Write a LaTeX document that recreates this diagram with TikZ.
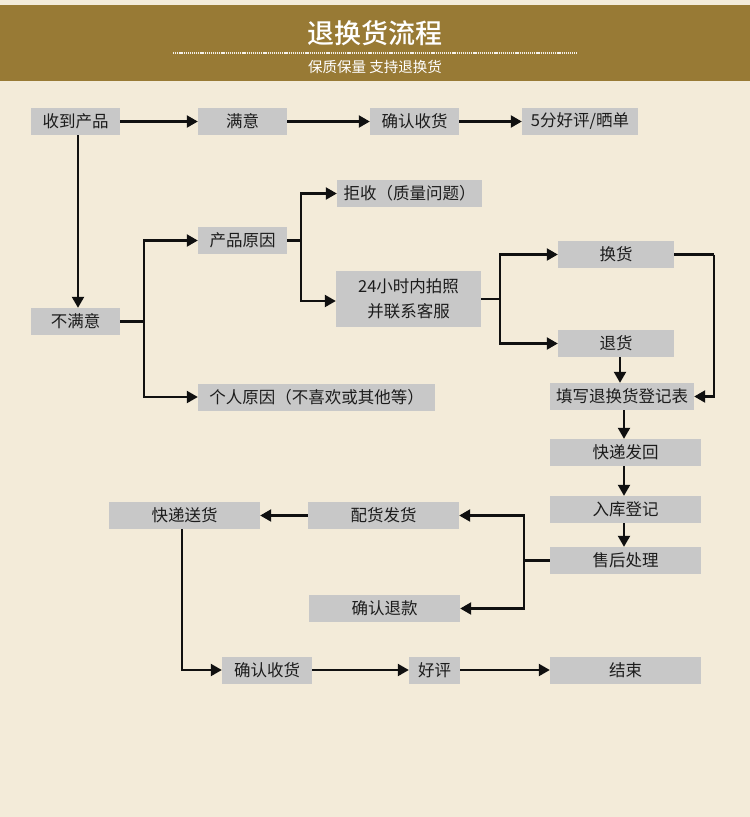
\documentclass[tikz,border=0pt]{standalone}
\usepackage{fontspec}
\setmainfont{Noto Sans CJK SC}
\newfontfamily\cjkb{Noto Sans CJK SC Medium}
\usetikzlibrary{arrows.meta}
\definecolor{bgcream}{HTML}{F3EBD9}
\definecolor{bandolive}{HTML}{987A35}
\definecolor{boxgray}{HTML}{C8C8C8}
\definecolor{linedark}{HTML}{101010}
\definecolor{txtdark}{HTML}{1C1C1C}
\tikzset{
  fbox/.style={fill=boxgray, inner sep=0pt, minimum height=27pt, text=txtdark,
    font=\fontsize{16.5}{24.5}\selectfont, align=center},
  conn/.style={draw=linedark, line width=2.2pt},
  arr/.style={conn, -{Triangle[length=11pt,width=12pt]}},
}
\begin{document}
\begin{tikzpicture}[x=1pt,y=-1pt]
\useasboundingbox (0,0) rectangle (750,817);
\fill[bgcream] (0,0) rectangle (750,817);
% header
\fill[bandolive] (0,5) rectangle (750,81);
\node[text=white, font=\cjkb\fontsize{27}{30}\selectfont, inner sep=0] (title) at (375,33) {退换货流程};
\draw[white!90!bandolive, line width=2.2pt, dash pattern=on 1.2pt off 0.9pt] (173,53) -- (577,53);
\node[text=white, font=\fontsize{14.5}{16}\selectfont, inner sep=0] (subtitle) at (375,67) {保质保量 支持退换货};
% nodes
\node[fbox, minimum width=89pt] (a) at (75.5,121.5) {收到产品};
\node[fbox, minimum width=89pt] (b) at (242.5,121.5) {满意};
\node[fbox, minimum width=89pt] (c) at (414.5,121.5) {确认收货};
\node[fbox, minimum width=116pt] (d) at (580,121.5) {5分好评/晒单};
\node[fbox, minimum width=89pt] (e) at (75.5,321.5) {不满意};
\node[fbox, minimum width=89pt] (f) at (242.5,240.5) {产品原因};
\node[fbox, minimum width=237pt] (g) at (316.5,397) {个人原因（不喜欢或其他等）};
\node[fbox, minimum width=145pt] (h) at (409.5,193.5) {拒收（质量问题）};
\node[fbox, minimum width=145pt, minimum height=56pt] (i) at (408.5,299) {24小时内拍照\\并联系客服};
\node[fbox, minimum width=116pt] (j) at (616,254.5) {换货};
\node[fbox, minimum width=116pt] (k) at (616,343.5) {退货};
\node[fbox, minimum width=144pt] (l) at (622,396.5) {填写退换货登记表};
\node[fbox, minimum width=151pt] (m) at (625.5,452.5) {快递发回};
\node[fbox, minimum width=151pt] (n) at (625.5,509.5) {入库登记};
\node[fbox, minimum width=151pt] (o) at (625.5,560.5) {售后处理};
\node[fbox, minimum width=151pt] (p) at (184.5,515.5) {快递送货};
\node[fbox, minimum width=151pt] (q) at (383.5,515.5) {配货发货};
\node[fbox, minimum width=151pt] (r) at (384.5,608.5) {确认退款};
\node[fbox, minimum width=90pt] (s) at (267,670) {确认收货};
\node[fbox, minimum width=51pt] (t) at (434.5,670) {好评};
\node[fbox, minimum width=151pt] (u) at (625.5,670) {结束};
% junction coordinates
\coordinate (je) at (144,321.5);
\coordinate (jf) at (301,240.5);
\coordinate (ji) at (500,299);
\coordinate (jj) at (714,254.5);
\coordinate (jo) at (524,560.5);
% connectors
\draw[arr] (a) -- (b);
\draw[arr] (b) -- (c);
\draw[arr] (c) -- (d);
\draw[arr] ([xshift=2.5pt]a.south) -- ([xshift=2.5pt]e.north);
\draw[conn] (e.east) -- (je);
\draw[arr] (je) |- (f.west);
\draw[arr] (je) |- (g.west);
\draw[conn] (f.east) -- (jf);
\draw[arr] (jf) |- (h.west);
\draw[arr] (jf) |- ([yshift=-2pt]i.west);
\draw[conn] (i.east) -- (ji);
\draw[arr] (ji) |- (j.west);
\draw[arr] (ji) |- (k.west);
\draw[conn] (j.east) -- (jj);
\draw[arr] (jj) |- (l.east);
\draw[arr] ([xshift=4pt]k.south) -- ([xshift=4pt]k.south |- l.north);
\draw[arr] ([xshift=2pt]l.south) -- ([xshift=2pt]l.south |- m.north);
\draw[arr] ([xshift=-1.5pt]m.south) -- ([xshift=-1.5pt]n.north);
\draw[arr] ([xshift=-1.5pt]n.south) -- ([xshift=-1.5pt]o.north);
\draw[conn] (o.west) -- (jo);
\draw[arr] (jo) |- (q.east);
\draw[arr] (jo) |- (r.east);
\draw[arr] (q) -- (p);
\draw[arr] ([xshift=-2.5pt]p.south) |- (s.west);
\draw[arr] (s) -- (t);
\draw[arr] (t) -- (u);
\end{tikzpicture}
\end{document}
